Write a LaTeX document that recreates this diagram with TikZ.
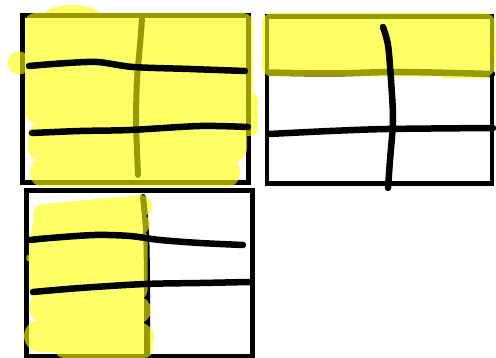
\documentclass[tikz,border=0pt]{standalone}
\definecolor{hlyellow}{RGB}{255,255,0}
\tikzset{
  border/.style={draw=black, line width=4.5pt},
  marker/.style={draw=black, line width=6.5pt, line cap=round, line join=round},
  hlfill/.style={fill=hlyellow},
  hlstroke/.style={draw=hlyellow, line cap=round, line join=round},
}
\begin{document}
\begin{tikzpicture}[x=1pt,y=-1pt]
\useasboundingbox[fill=white] (0,0) rectangle (496,358);
% ---------- box outlines ----------
\draw[border] (22.5,15.5) rectangle (248.5,182.5);
\draw[border] (267,16.5) rectangle (492,183.5);
\draw[border] (26.5,190.5) rectangle (252.5,356);
% ---------- lines under the highlighter ----------
\draw[marker, line width=6pt] plot[smooth] coordinates {(142,19) (140,45) (137,80) (136,120) (137,150) (138,175)};
\draw[marker] plot[smooth] coordinates {(268,72.5) (330,73.5) (400,72) (492,74)};
\draw[marker, line width=6pt] plot[smooth] coordinates {(143,197) (146,230) (147,280) (147,357)};
% ---------- highlighter, box 1 ----------
\begin{scope}[transparency group, opacity=0.6]
  \fill[hlfill, rounded corners=10pt] (25,13) rectangle (253,123);
  \fill[hlfill] (72,15) ellipse [x radius=28, y radius=10];
  \fill[hlfill] (19,63) circle [radius=11.5];
  \fill[hlfill, rounded corners=8pt] (235,92) rectangle (258,136);
  \fill[hlfill, rounded corners=14pt] (28,121) rectangle (247,162);
  \fill[hlfill, rounded corners=13pt] (30,158) rectangle (240,187);
\end{scope}
% ---------- highlighter, box 2 ----------
\begin{scope}[transparency group, opacity=0.6]
  \fill[hlfill, rounded corners=10pt] (262,13) rectangle (495,76.5);
  \fill[hlfill] (493,50) circle [radius=4];
  \fill[hlfill, rounded corners=4pt] (440,68) rectangle (490,78.5);
\end{scope}
% ---------- highlighter, box 3 ----------
\begin{scope}[transparency group, opacity=0.6]
  \draw[hlstroke, line width=22pt] (44,215) -- (141,206);
  \draw[hlstroke, line width=20pt] (42,226) -- (140,224);
  \fill[hlfill, rounded corners=10pt] (29,228) rectangle (147.5,300);
  \draw[hlstroke, line width=28pt] (43,308) -- (137,310);
  \draw[hlstroke, line width=32pt] (40,336) -- (138,338);
  \draw[hlstroke, line width=18pt] (64,349) -- (144,349);
  \fill[hlfill] (30,258) circle [radius=4];
\end{scope}
% ---------- lines on top ----------
\draw[marker] plot[smooth] coordinates {(29,66) (60,63.5) (97,62) (133,67) (190,69) (245,71)};
\draw[marker] plot[smooth] coordinates {(32,133) (80,131) (130,130) (200,126) (248,127)};
\draw[marker] plot[smooth] coordinates {(269,134) (330,131) (388,129) (493,128)};
\draw[marker] plot[smooth] coordinates {(383,27) (388,45) (391,80) (393,120) (390,160) (388,188)};
\draw[marker] plot[smooth] coordinates {(30,240) (50,238) (95,235) (130,236) (160,240) (200,243) (243,245)};
\draw[marker] plot[smooth] coordinates {(33,292) (80,288) (145,284) (200,283) (250,282)};
\end{tikzpicture}
\end{document}
